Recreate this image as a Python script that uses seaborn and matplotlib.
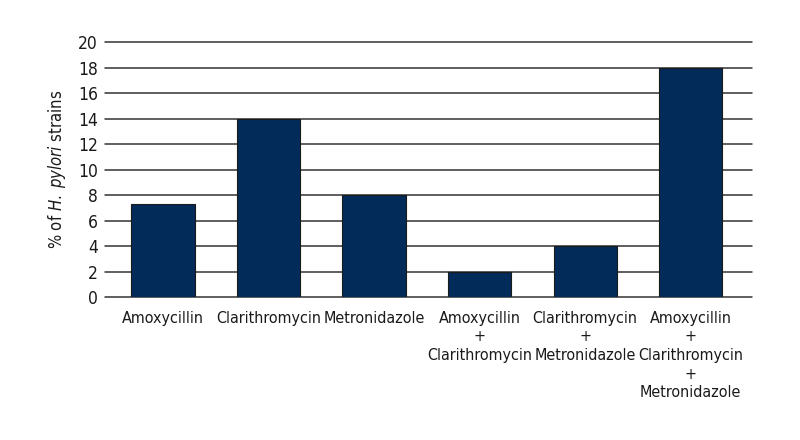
import matplotlib
matplotlib.use("Agg")
import matplotlib.pyplot as plt
import seaborn as sns
import pandas as pd

# data
categories = [
    "Amoxycillin",
    "Clarithromycin",
    "Metronidazole",
    "Amoxycillin\n+\nClarithromycin",
    "Clarithromycin\n+\nMetronidazole",
    "Amoxycillin\n+\nClarithromycin\n+\nMetronidazole",
]
percent_strains = [7.33, 14, 8, 2, 4, 18]
y_ticks = [0, 2, 4, 6, 8, 10, 12, 14, 16, 18, 20]

df = pd.DataFrame({"drug": categories, "pct": percent_strains})

sns.set_style("white")
plt.rcParams["font.family"] = ["DejaVu Sans"]
plt.rcParams["font.stretch"] = "condensed"
plt.rcParams["mathtext.fontset"] = "custom"
plt.rcParams["mathtext.rm"] = "DejaVu Sans:stretch=condensed"
plt.rcParams["mathtext.it"] = "DejaVu Sans:italic:stretch=condensed"

fig = plt.figure(figsize=(8, 4.4), dpi=100)
ax = fig.add_axes([0.131, 0.325, 0.809, 0.5795])

sns.barplot(
    data=df, x="drug", y="pct",
    color="#022b5a", saturation=1, width=0.6,
    edgecolor="#1a1a1a", linewidth=0.8,
    ax=ax, zorder=3
    )

ax.set_ylim(0, 20)
ax.set_xlim(-0.55, 5.58)
ax.set_yticks(y_ticks)
ax.yaxis.grid(True, color="#333333", linewidth=1.1, clip_on=False)
ax.set_axisbelow(True)
for side in ["top", "right", "left", "bottom"]:
    ax.spines[side].set_visible(False)
ax.tick_params(axis="both", length=0, colors="#1a1a1a")
ax.tick_params(axis="y", pad=5, labelsize=12.5)
ax.tick_params(axis="x", pad=10, labelsize=11.5)
plt.setp(ax.get_xticklabels(), linespacing=1.3)

ax.set_xlabel("")
ax.set_ylabel(r"% of $\mathit{H.\;pylori}$ strains", fontsize=12, color="#1a1a1a", labelpad=7)

fig.savefig("out.png", dpi=100)
